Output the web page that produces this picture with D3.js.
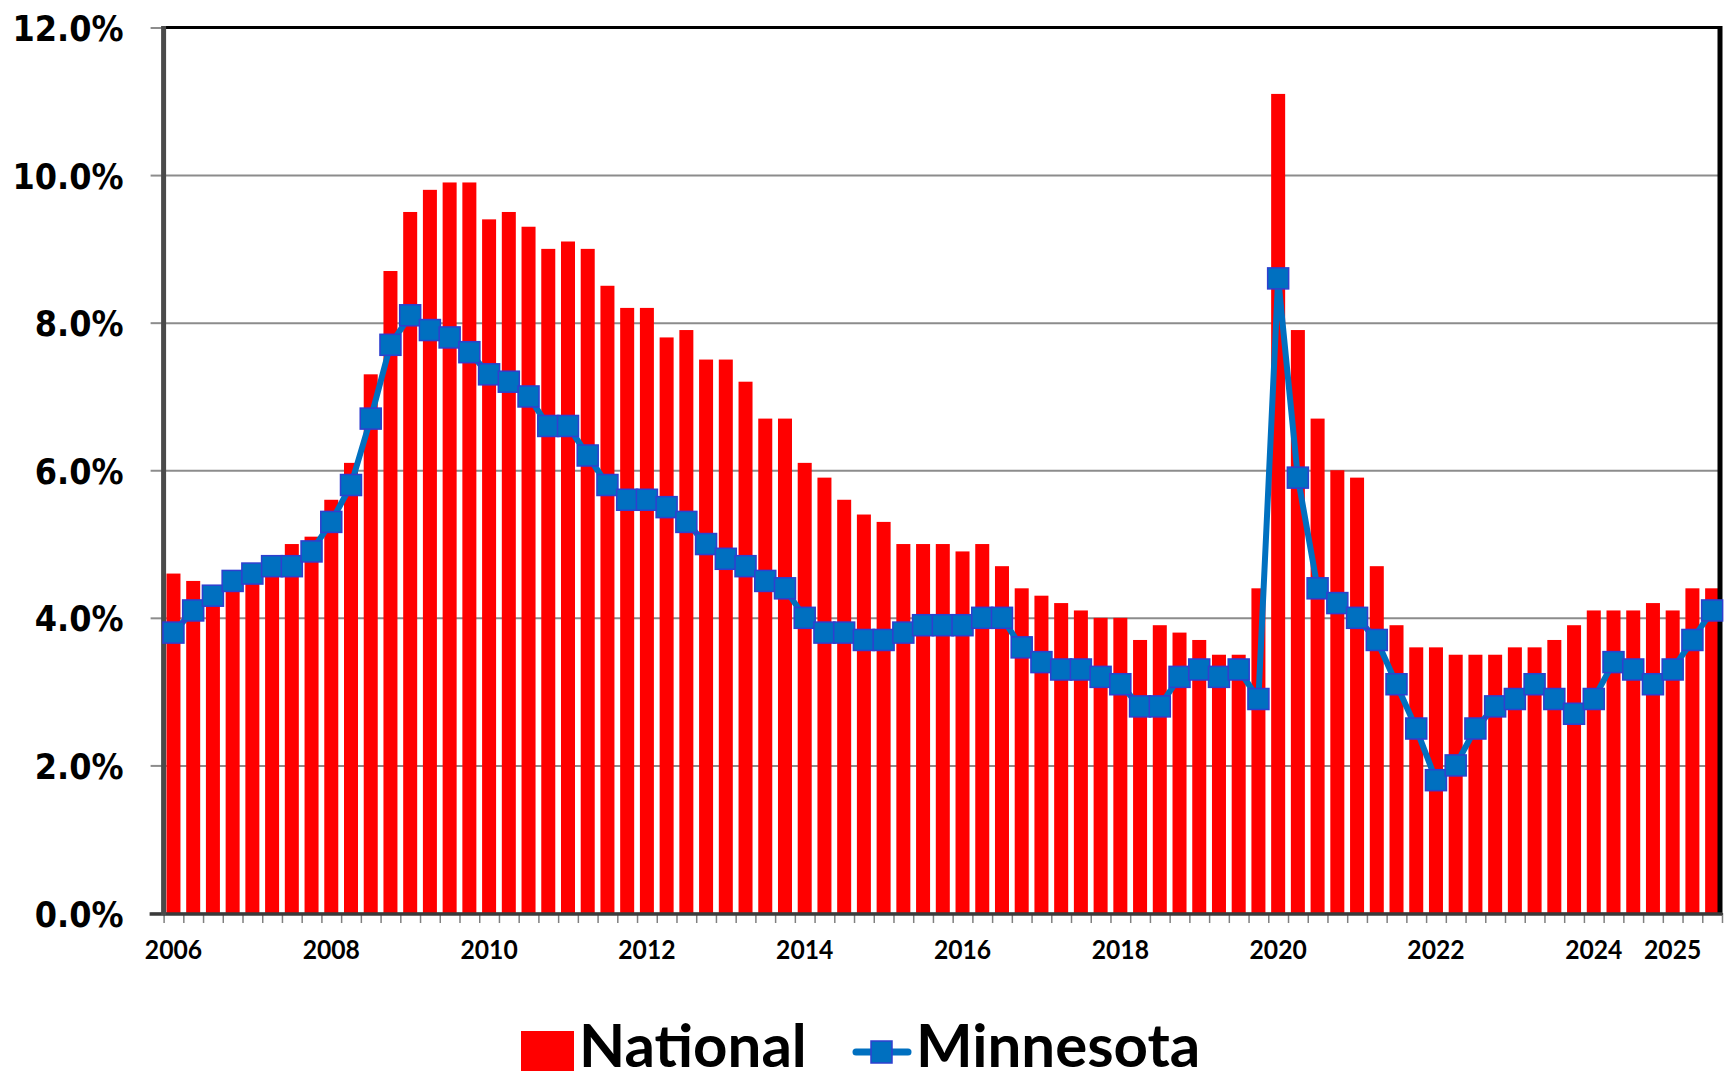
<!DOCTYPE html>
<html>
<head>
<meta charset="utf-8">
<script src="https://cdn.jsdelivr.net/npm/d3@7"></script>
<style>
  body { margin: 0; background: #fff; }
</style>
</head>
<body>
<script>
// quarterly unemployment rate, %
const startYear = 2006;
const categories = d3.range(79).map(i => (startYear + Math.floor(i / 4)) + " Q" + (i % 4 + 1));
const yearLabels = ["2006", "2008", "2010", "2012", "2014", "2016", "2018", "2020", "2022", "2024", "2025"];
const yTicks = [0, 2, 4, 6, 8, 10, 12];

const national = [
  4.6, 4.5, 4.4, 4.4, 4.6, 4.7, 5.0, 5.1, 5.6, 6.1, 7.3, 8.7, 9.5, 9.8, 9.9,
  9.9, 9.4, 9.5, 9.3, 9.0, 9.1, 9.0, 8.5, 8.2, 8.2, 7.8, 7.9, 7.5, 7.5, 7.2, 6.7,
  6.7, 6.1, 5.9, 5.6, 5.4, 5.3, 5.0, 5.0, 5.0, 4.9, 5.0, 4.7, 4.4, 4.3, 4.2,
  4.1, 4.0, 4.0, 3.7, 3.9, 3.8, 3.7, 3.5, 3.5, 4.4, 11.1, 7.9, 6.7, 6.0, 5.9,
  4.7, 3.9, 3.6, 3.6, 3.5, 3.5, 3.5, 3.6, 3.6, 3.7, 3.9, 4.1, 4.1, 4.1, 4.2, 4.1, 4.4, 4.4
];
const minnesota = [
  3.8, 4.1, 4.3, 4.5, 4.6, 4.7, 4.7, 4.9, 5.3, 5.8, 6.7, 7.7, 8.1, 7.9, 7.8,
  7.6, 7.3, 7.2, 7.0, 6.6, 6.6, 6.2, 5.8, 5.6, 5.6, 5.5, 5.3, 5.0, 4.8, 4.7, 4.5,
  4.4, 4.0, 3.8, 3.8, 3.7, 3.7, 3.8, 3.9, 3.9, 3.9, 4.0, 4.0, 3.6, 3.4, 3.3,
  3.3, 3.2, 3.1, 2.8, 2.8, 3.2, 3.3, 3.2, 3.3, 2.9, 8.6, 5.9, 4.4, 4.2, 4.0,
  3.7, 3.1, 2.5, 1.8, 2.0, 2.5, 2.8, 2.9, 3.1, 2.9, 2.7, 2.9, 3.4, 3.3, 3.1, 3.3, 3.7, 4.1
];

const margin = {top: 27.5, right: 12, bottom: 167, left: 163.6},
    W = 1734, H = 1080,
    w = W - margin.left - margin.right,
    h = H - margin.top - margin.bottom;

const svg = d3.select("body")
  .append("svg")
  .attr("width", W)
  .attr("height", H);

const g = svg.append("g")
  .attr("transform", "translate(" + margin.left + "," + margin.top + ")");

const xScale = d3.scaleBand()
  .domain(categories)
  .range([0, w])
  .paddingInner(0.29)
  .paddingOuter(0.145);
const xEdge = d3.scaleLinear()
  .domain([0, categories.length])
  .range([0, w]);
const yScale = d3.scaleLinear()
  .domain([0, 12])
  .range([h, 0]);

// gridlines
g.append("g")
  .attr("class", "grid")
  .call(d3.axisLeft(yScale).tickValues(yTicks).tickSize(-w).tickFormat(""))
  .call(s => s.select(".domain").remove())
  .call(s => s.selectAll("line").attr("stroke", "#8c8c8c").attr("stroke-width", 2));

// bars
g.selectAll("rect.bar")
  .data(national)
  .enter()
  .append("rect")
  .attr("class", "bar")
  .attr("x", (d, i) => xScale(categories[i]))
  .attr("y", d => yScale(d))
  .attr("width", xScale.bandwidth())
  .attr("height", d => h - yScale(d))
  .attr("fill", "#ff0000");

// y axis
g.append("g")
  .attr("id", "y-axis")
  .call(d3.axisLeft(yScale).tickValues(yTicks).tickSize(13).tickFormat(d => d.toFixed(1) + "%"))
  .call(s => s.select(".domain").remove())
  .call(s => s.selectAll("line").attr("stroke", "#8c8c8c").attr("stroke-width", 2))
  .call(s => s.selectAll("text")
    .attr("x", 0).attr("dy", null)
    .attr("transform", "translate(-40,13) scale(0.89,1)")
    .attr("fill", "#000")
    .style("font-family", "'DejaVu Sans', sans-serif")
    .style("font-weight", "bold")
    .style("font-size", "36px"));

// x axis ticks at band edges
g.append("g")
  .attr("transform", "translate(0," + h + ")")
  .call(d3.axisBottom(xEdge).tickValues(d3.range(categories.length + 1)).tickSize(10).tickFormat(""))
  .call(s => s.select(".domain").remove())
  .call(s => s.selectAll("line").attr("stroke", "#808080").attr("stroke-width", 1.5));

// x axis labels
const labelled = categories.filter(c => c.endsWith("Q1") && yearLabels.includes(c.slice(0, 4)));
g.append("g")
  .attr("id", "x-axis")
  .attr("transform", "translate(0," + h + ")")
  .call(d3.axisBottom(xScale).tickValues(labelled).tickSize(0).tickFormat(d => d.slice(0, 4)))
  .call(s => s.select(".domain").remove())
  .call(s => s.selectAll("text")
    .attr("y", 0).attr("dy", null)
    .attr("transform", "translate(0,46) scale(0.95,1)")
    .attr("fill", "#000")
    .style("font-family", "Lato, sans-serif")
    .style("font-weight", "bold")
    .style("font-size", "26px"));

// frame
g.append("line")
  .attr("x1", 0).attr("x2", w).attr("y1", 0).attr("y2", 0)
  .attr("stroke", "#000").attr("stroke-width", 3);
g.append("line")
  .attr("x1", w - 2).attr("x2", w - 2).attr("y1", -1.5).attr("y2", h + 2)
  .attr("stroke", "#000").attr("stroke-width", 5);
g.append("line")
  .attr("x1", -14).attr("x2", w).attr("y1", h + 1).attr("y2", h + 1)
  .attr("stroke", "#3a3a3a").attr("stroke-width", 3.5);
g.append("line")
  .attr("x1", 0).attr("x2", 0).attr("y1", -1.5).attr("y2", h + 2)
  .attr("stroke", "#4a4a4a").attr("stroke-width", 5);

// Minnesota line
const line = d3.line()
  .x((d, i) => xScale(categories[i]) + xScale.bandwidth() / 2)
  .y(d => yScale(d));

g.append("path")
  .datum(minnesota)
  .attr("d", line)
  .attr("fill", "none")
  .attr("stroke", "#0070c0")
  .attr("stroke-width", 6)
  .attr("stroke-linejoin", "round");

const ms = 21;
g.selectAll("rect.marker")
  .data(minnesota)
  .enter()
  .append("rect")
  .attr("class", "marker")
  .attr("x", (d, i) => xScale(categories[i]) + xScale.bandwidth() / 2 - ms / 2)
  .attr("y", d => yScale(d) - ms / 2)
  .attr("width", ms)
  .attr("height", ms)
  .attr("fill", "#0070c0")
  .attr("stroke", "#2f3fcf")
  .attr("stroke-width", 1.5);

// legend
const legend = svg.append("g")
  .style("font-family", "Lato, sans-serif")
  .style("font-weight", "bold")
  .style("font-size", "60px");

legend.append("rect")
  .attr("x", 521).attr("y", 1031)
  .attr("width", 53).attr("height", 40)
  .attr("fill", "#ff0000");
legend.append("text")
  .attr("x", 579).attr("y", 1067)
  .text("National");

legend.append("line")
  .attr("x1", 856).attr("x2", 908).attr("y1", 1052).attr("y2", 1052)
  .attr("stroke", "#0070c0").attr("stroke-width", 7)
  .attr("stroke-linecap", "round");
legend.append("rect")
  .attr("x", 871).attr("y", 1041)
  .attr("width", 21).attr("height", 22)
  .attr("fill", "#0070c0")
  .attr("stroke", "#2f3fcf")
  .attr("stroke-width", 1.5);
legend.append("text")
  .attr("x", 916).attr("y", 1067)
  .text("Minnesota");
</script>
</body>
</html>
